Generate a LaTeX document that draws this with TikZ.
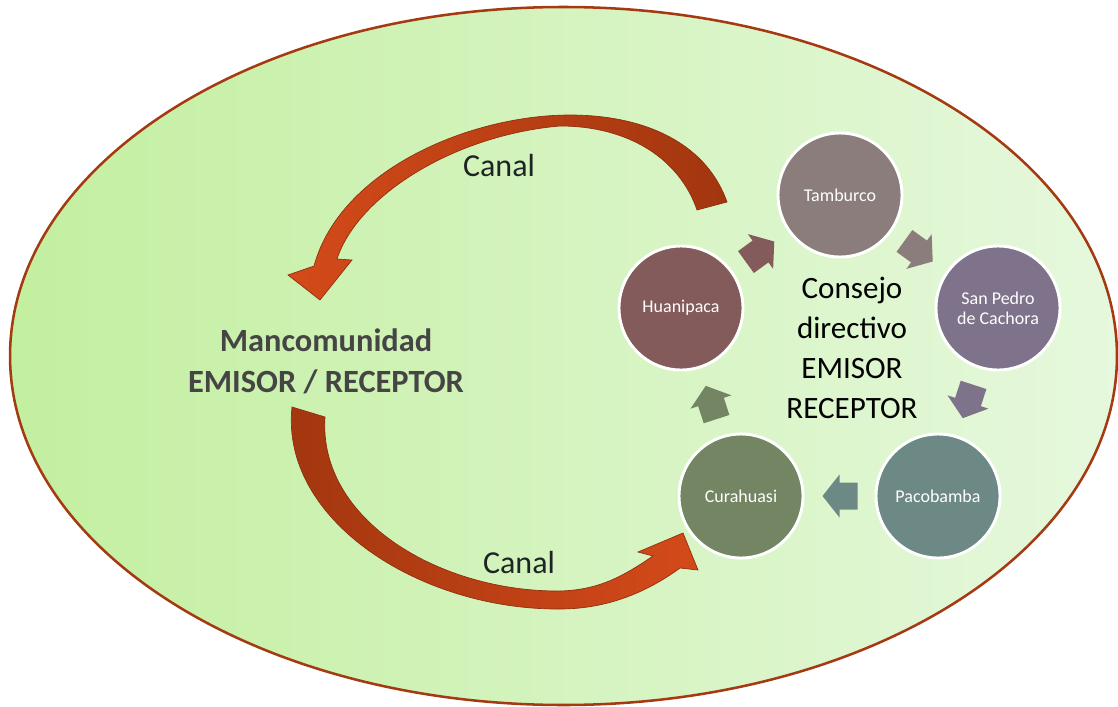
\documentclass[tikz,border=0pt]{standalone}
\usepackage{fontspec}
\setmainfont{Carlito}
\usetikzlibrary{calc}
\definecolor{edgered}{HTML}{A53A12}
\definecolor{bgleft}{HTML}{C3EFA0}
\definecolor{bgright}{HTML}{E6F8DD}
\definecolor{arrdark}{HTML}{A2360F}
\definecolor{arrlight}{HTML}{D44A1A}
\definecolor{arredge}{HTML}{8E2E0C}
\definecolor{cT}{HTML}{8B7D7B}
\definecolor{cS}{HTML}{7E738A}
\definecolor{cP}{HTML}{6C8986}
\definecolor{cC}{HTML}{748563}
\definecolor{cH}{HTML}{845B5B}
\definecolor{mgrey}{HTML}{454545}
\definecolor{tdark}{HTML}{1E2424}
\tikzset{
  town/.style={circle, draw=white, line width=2.2pt, minimum size=93pt, inner sep=0pt,
    text=white, font=\fontsize{13.5}{15}\selectfont, align=center},
  canal/.style={font=\fontsize{24}{28}\selectfont, text=tdark},
  bigarrow/.style={draw=arredge, line width=0.5pt},
  barrow/.pic={\fill[pic actions] (-18,-13.5) -- (0,-13.5) -- (0,-21.5) -- (17,0) -- (0,21.5) -- (0,13.5) -- (-18,13.5) -- cycle;},
}
\begin{document}
\begin{tikzpicture}[x=0.75pt,y=-0.75pt]
\useasboundingbox (0,0) rectangle (1118,707);
% background ellipse
\draw[draw=edgered, line width=1.9pt, left color=bgleft, right color=bgright]
  (563.5,356) ellipse [x radius=415.1pt, y radius=261.75pt];

% top curved arrow (Canal)
\path[bigarrow, left color=arrlight, right color=arrdark]
  (727,202) .. controls (705,140) and (640,115) .. (570,115)
  .. controls (470,115) and (340,170) .. (314,266)
  -- (288,275) -- (320,300) -- (352,260) -- (337,259)
  .. controls (358,195) and (455,135) .. (560,126)
  .. controls (630,126) and (680,160) .. (697,210)
  -- cycle;

% bottom curved arrow (Canal)
\path[bigarrow, left color=arrdark, right color=arrlight]
  (292,407) .. controls (280,520) and (420,610) .. (560,609)
  .. controls (610,609) and (650,590) .. (680,568)
  -- (698,570) -- (683,533) -- (638,552) -- (653,556)
  .. controls (625,575) and (600,590) .. (560,591)
  .. controls (440,592) and (318,520) .. (325,417)
  -- cycle;

% circles
\node[town, fill=cT] (T) at (840,195) {Tamburco};
\node[town, fill=cS] (S) at (998,308) {San Pedro\\de Cachora};
\node[town, fill=cP] (P) at (938,496) {Pacobamba};
\node[town, fill=cC] (C) at (741,496) {Curahuasi};
\node[town, fill=cH] (H) at (681,308) {Huanipaca};

% cycle arrows
\pic[fill=cH, rotate=36] at ($(H)!0.5!(T)$) {barrow};
\pic[fill=cT, rotate=-36] at ($(T)!0.5!(S)$) {barrow};
\pic[fill=cS, rotate=-108] at ($(S)!0.5!(P)$) {barrow};
\pic[fill=cP, rotate=180] at ($(P)!0.5!(C)$) {barrow};
\pic[fill=cC, rotate=108] at ($(C)!0.5!(H)$) {barrow};

% texts
\node[font=\fontsize{23.3}{29.8}\selectfont, align=center, text=black] (cons) at (852,348) {Consejo\\directivo\\EMISOR\\RECEPTOR};
\node[font=\bfseries\fontsize{24.3}{30.75}\selectfont, align=center, text=mgrey] (manc) at (326,361) {Mancomunidad\\EMISOR / RECEPTOR};
\node[canal] (canal1) at (499,166) {Canal};
\node[canal] (canal2) at (519,563) {Canal};
\end{tikzpicture}
\end{document}
